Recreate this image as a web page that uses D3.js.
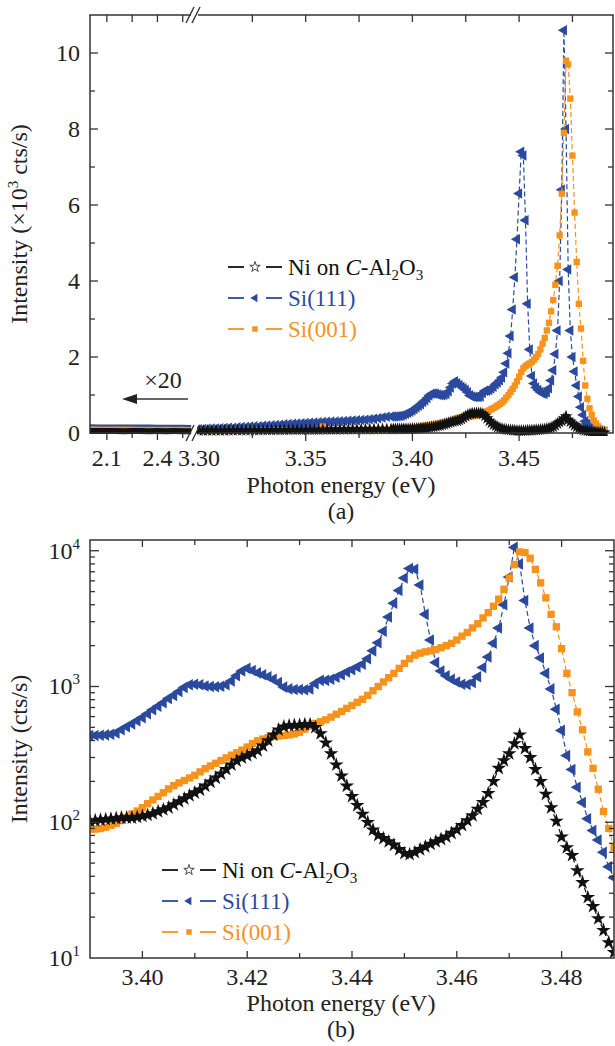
<!DOCTYPE html>
<html>
<head>
<meta charset="utf-8">
<script src="https://cdn.jsdelivr.net/npm/d3@7"></script>
<style>
body { margin: 0; background: #fff; }
svg { display: block; font-family: "Liberation Serif", "Times New Roman", serif; }
</style>
</head>
<body>
<svg class="js-vis" width="615" height="1046"></svg>
<script>
"use strict";

// low-energy part (2.0 - 2.6 eV), shown x20
var lowEnergy = [2.00, 2.05, 2.10, 2.15, 2.20, 2.25, 2.30, 2.35, 2.40, 2.45, 2.50, 2.55, 2.60];
var lowNi = [2.6, 2.5, 2.6, 2.5, 2.4, 2.5, 2.5, 2.4, 2.5, 2.4, 2.5, 2.4, 2.4];
var lowSi111 = [9.8, 9.7, 9.7, 9.6, 9.6, 9.5, 9.5, 9.4, 9.3, 9.3, 9.2, 9.1, 9.0];
var lowSi001 = [6.8, 6.9, 7.0, 6.9, 6.8, 6.8, 6.7, 6.7, 6.6, 6.6, 6.5, 6.5, 6.4];
var lowFactor = 20;

// band-edge part: 3.300-3.388 eV every 2 meV, then 3.390-3.490 eV every 1 meV
var energy = d3.range(3300, 3390, 2).concat(d3.range(3390, 3491)).map(function (d) {
  return d / 1000;
});

// intensities in cts/s
var si111Counts = [
  100, 105, 110, 115, 118, 125, 130, 135, 140, 148,
  155, 160, 168, 175, 180, 190, 195, 205, 210, 220,
  228, 235, 240, 250, 255, 262, 270, 275, 285, 290,
  296, 300, 305, 312, 318, 322, 328, 335, 340, 350,
  360, 372, 390, 410, 428,
  436, 436, 437, 440, 445, 455, 480, 505, 530, 560,
  590, 630, 675, 715, 760, 815, 860, 920, 985, 1030,
  1040, 1030, 1010, 1000, 995, 1005, 1030, 1100, 1200, 1300,
  1360, 1310, 1260, 1220, 1180, 1130, 1070, 990, 960, 950,
  950, 945, 960, 1050, 1110, 1110, 1130, 1170, 1220, 1280,
  1330, 1390, 1460, 1600, 1830, 2100, 2550, 3250, 4100, 5100,
  6300, 7400, 7300, 5600, 3400, 2200, 1500, 1300, 1200, 1130,
  1080, 1040, 1035, 1070, 1180, 1380, 1650, 2080, 2700, 4000,
  6400, 10600, 8000, 4300, 2700, 2000, 1620, 1250, 960, 680,
  475, 310, 245, 181, 140, 106, 87, 74, 60, 47,
  39
];

var si001Counts = [
  45, 46, 47, 48, 48, 50, 51, 52, 53, 54,
  55, 56, 57, 58, 59, 60, 61, 62, 63, 64,
  65, 66, 67, 68, 69, 70, 71, 72, 73, 170,
  74, 75, 76, 77, 78, 79, 80, 81, 82, 83,
  84, 85, 86, 87, 88,
  89, 89, 90, 92, 95, 98, 103, 108, 115, 121,
  128, 137, 146, 155, 165, 176, 186, 195, 203, 212,
  222, 235, 248, 260, 272, 285, 298, 312, 325, 340,
  358, 380, 398, 410, 420, 427, 432, 436, 440, 447,
  460, 485, 512, 535, 550, 568, 595, 625, 655, 690,
  725, 765, 805, 860, 930, 1000, 1080, 1160, 1250, 1360,
  1480, 1600, 1700, 1760, 1800, 1830, 1870, 1930, 2000, 2080,
  2200, 2350, 2500, 2700, 2900, 3200, 3500, 3900, 4400, 5200,
  6300, 7900, 9800, 9700, 8800, 7300, 5800, 4500, 3400, 2750,
  1900, 1250, 900, 650, 480, 330, 250, 175, 120, 90,
  65
];

var niCounts = [
  62, 63, 63, 64, 65, 66, 66, 67, 68, 69,
  70, 70, 71, 72, 73, 74, 75, 76, 77, 78,
  79, 80, 81, 82, 83, 84, 85, 86, 86, 87,
  88, 89, 90, 91, 92, 93, 94, 95, 96, 97,
  98, 99, 100, 101, 101,
  102, 103, 104, 105, 106, 107, 108, 108, 108, 109,
  111, 113, 116, 120, 124, 128, 135, 142, 149, 157,
  165, 173, 185, 198, 212, 227, 245, 265, 283, 298,
  310, 322, 337, 365, 400, 440, 480, 505, 515, 518,
  520, 525, 525, 500, 450, 385, 320, 265, 220, 185,
  155, 133, 115, 100, 88, 80, 76, 72, 68, 63,
  59, 58, 60, 63, 66, 69, 72, 75, 78, 83,
  88, 95, 103, 112, 125, 140, 163, 200, 250, 285,
  320, 380, 440, 350, 300, 245, 200, 161, 128, 102,
  78, 65, 57, 44, 36, 28, 24, 19.5, 16, 13,
  11
];

// axis ticks
var lowTicksMajor = [2.1, 2.4];
var lowTicksMinor = [2.25, 2.55];
var highTicksMajor = [3.30, 3.35, 3.40, 3.45];
var highTicksMinor = [3.325, 3.375, 3.425, 3.475];
var linTicks = [0, 2, 4, 6, 8, 10];
var linTicksMinor = [1, 3, 5, 7, 9];
var bTicksMajor = [3.40, 3.42, 3.44, 3.46, 3.48];
var bTicksMinor = [3.41, 3.43, 3.45, 3.47];

var BLUE = "#2b4a9e", ORANGE = "#f7921c", BLACK = "#111";
var AX = "#333";

var series = [
  { key: "si111", label: "Si(111)", color: BLUE, symbol: d3.symbolTriangle, rot: -90, values: si111Counts, low: lowSi111, lowWidth: 2.5, sizeA: 48, sizeB: 58 },
  { key: "si001", label: "Si(001)", color: ORANGE, symbol: d3.symbolSquare, rot: 0, values: si001Counts, low: lowSi001, lowWidth: 2.5, sizeA: 40, sizeB: 54 },
  { key: "ni", label: "Ni", color: BLACK, symbol: d3.symbolStar, rot: 0, values: niCounts, low: lowNi, lowWidth: 6, sizeA: 50, sizeB: 66 }
];

var svg = d3.select(".js-vis");

function vTicks(g, scale, vals, y0, len) {
  g.append("g").selectAll("line").data(vals).enter().append("line")
    .attr("x1", function (d) { return scale(d); })
    .attr("x2", function (d) { return scale(d); })
    .attr("y1", y0).attr("y2", y0 + len)
    .attr("stroke", AX).attr("stroke-width", 1.3);
}

function hTicks(g, scale, vals, x0, len) {
  g.append("g").selectAll("line").data(vals).enter().append("line")
    .attr("y1", function (d) { return scale(d); })
    .attr("y2", function (d) { return scale(d); })
    .attr("x1", x0).attr("x2", x0 + len)
    .attr("stroke", AX).attr("stroke-width", 1.3);
}

function line(g, x1, y1, x2, y2, w) {
  g.append("line").attr("x1", x1).attr("y1", y1).attr("x2", x2).attr("y2", y2)
    .attr("stroke", AX).attr("stroke-width", w || 1.5);
}

function drawMarkers(g, s, xs, ys, idx, area) {
  var sym = d3.symbol().type(s.symbol).size(area);
  var pts = idx.map(function (i) { return [xs(energy[i]), ys(s.values[i])]; });
  g.append("path")
    .attr("d", d3.line()(pts))
    .attr("fill", "none").attr("stroke", s.color)
    .attr("stroke-width", 1.2).attr("stroke-dasharray", "5,3");
  g.append("g").selectAll("path").data(pts).enter().append("path")
    .attr("d", sym)
    .attr("transform", function (d) { return "translate(" + d[0] + "," + d[1] + ") rotate(" + s.rot + ")"; })
    .attr("fill", s.color);
}

function legend(g, x0, y0, gap) {
  var order = [series[2], series[0], series[1]];
  order.forEach(function (s, i) {
    var y = y0 + i * gap;
    g.append("line").attr("x1", x0).attr("x2", x0 + 16).attr("y1", y).attr("y2", y)
      .attr("stroke", s.color).attr("stroke-width", 1.8);
    g.append("line").attr("x1", x0 + 38).attr("x2", x0 + 54).attr("y1", y).attr("y2", y)
      .attr("stroke", s.color).attr("stroke-width", 1.8);
    var m = g.append("path")
      .attr("d", d3.symbol().type(s.symbol).size(s.key === "ni" ? 34 : 30))
      .attr("transform", "translate(" + (x0 + 27) + "," + y + ") rotate(" + s.rot + ")");
    if (s.key === "ni") m.attr("fill", "#fff").attr("stroke", "#333").attr("stroke-width", 0.9);
    else m.attr("fill", s.color);
    var t = g.append("text").attr("x", x0 + 60).attr("y", y + 8)
      .attr("font-size", 23).attr("fill", s.color);
    if (s.key === "ni") {
      t.append("tspan").text("Ni on ");
      t.append("tspan").attr("font-style", "italic").text("C");
      t.append("tspan").text("-Al");
      t.append("tspan").attr("font-size", 15).attr("dy", 5).text("2");
      t.append("tspan").attr("dy", -5).text("O");
      t.append("tspan").attr("font-size", 15).attr("dy", 5).text("3");
    } else {
      t.text(s.label);
    }
  });
}

// ================= panel (a) =================
var aTop = 15, aBot = 433, aLeft = 90, aRight = 613;
var xLow = d3.scaleLinear().domain([2.0, 2.605]).range([aLeft, 192]);
var xHigh = d3.scaleLinear().domain([3.30, 3.494]).range([199, aRight]);
var yLin = d3.scaleLinear().domain([0, 11]).range([aBot, aTop]);

var pa = svg.append("g");
pa.append("clipPath").attr("id", "clipLow").append("rect")
  .attr("x", aLeft).attr("y", aTop).attr("width", 192 - aLeft).attr("height", aBot - aTop + 3);
pa.append("clipPath").attr("id", "clipHigh").append("rect")
  .attr("x", 197).attr("y", aTop).attr("width", aRight - 197).attr("height", aBot - aTop + 3);

var lowG = pa.append("g").attr("clip-path", "url(#clipLow)");
series.forEach(function (s) {
  lowG.append("path")
    .attr("d", d3.line()
      .x(function (d, i) { return xLow(lowEnergy[i]); })
      .y(function (d) { return yLin(d * lowFactor / 1000); })(s.low))
    .attr("fill", "none").attr("stroke", s.color).attr("stroke-width", s.lowWidth);
});

var yLinK = function (v) { return yLin(v / 1000); };
var highG = pa.append("g").attr("clip-path", "url(#clipHigh)");
var allIdx = d3.range(energy.length);
series.forEach(function (s) {
  drawMarkers(highG, s, xHigh, yLinK, allIdx, s.sizeA);
});

// frame with axis break
line(pa, aLeft, aTop, aLeft, aBot);
line(pa, aRight, aTop, aRight, aBot);
line(pa, aLeft - 0.7, aBot, 191, aBot);
line(pa, 198, aBot, aRight + 0.7, aBot);
line(pa, aLeft - 0.7, aTop, 191, aTop);
line(pa, 198, aTop, aRight + 0.7, aTop);
[aBot, aTop].forEach(function (yb) {
  line(pa, 186, yb + 8, 194, yb - 8, 1.4);
  line(pa, 192, yb + 8, 200, yb - 8, 1.4);
});

// ticks
vTicks(pa, xLow, lowTicksMajor, aBot, 7);
vTicks(pa, xLow, lowTicksMinor, aBot, 5);
vTicks(pa, xHigh, highTicksMajor.slice(1), aBot, 8);
vTicks(pa, xHigh, highTicksMinor, aBot, 5);
vTicks(pa, xLow, lowTicksMajor.concat(lowTicksMinor), aTop, 7);
vTicks(pa, xHigh, highTicksMajor.slice(1).concat(highTicksMinor), aTop, 7);
hTicks(pa, yLin, linTicks.slice(1), aLeft, 8);
hTicks(pa, yLin, linTicksMinor, aLeft, 5);
hTicks(pa, yLin, linTicks.slice(1), aRight, -8);
hTicks(pa, yLin, linTicksMinor, aRight, -5);

var fs = 24;
pa.append("g").selectAll("text").data(lowTicksMajor).enter().append("text")
  .attr("x", function (d) { return xLow(d); }).attr("y", 466)
  .attr("text-anchor", "middle").attr("font-size", fs).attr("fill", "#222")
  .text(function (d) { return d3.format(".1f")(d); });
pa.append("g").selectAll("text").data(highTicksMajor).enter().append("text")
  .attr("x", function (d) { return xHigh(d); }).attr("y", 466)
  .attr("text-anchor", "middle").attr("font-size", fs).attr("fill", "#222")
  .text(function (d) { return d3.format(".2f")(d); });
pa.append("g").selectAll("text").data(linTicks).enter().append("text")
  .attr("x", 80).attr("y", function (d) { return yLin(d) + 8; })
  .attr("text-anchor", "end").attr("font-size", fs).attr("fill", "#222")
  .text(function (d) { return d; });

pa.append("text").attr("x", 341).attr("y", 493).attr("text-anchor", "middle")
  .attr("font-size", fs).attr("fill", "#222").text("Photon energy (eV)");
pa.append("text").attr("x", 341).attr("y", 519).attr("text-anchor", "middle")
  .attr("font-size", fs).attr("fill", "#222").text("(a)");

var ya = pa.append("text").attr("transform", "translate(27," + ((aTop + aBot) / 2) + ") rotate(-90)")
  .attr("text-anchor", "middle").attr("font-size", fs).attr("fill", "#222");
ya.append("tspan").text("Intensity (\u00d710");
ya.append("tspan").attr("font-size", 15).attr("dy", -9).text("3");
ya.append("tspan").attr("dy", 9).text(" cts/s)");

// x20 note with arrow
pa.append("text").attr("x", 163).attr("y", 388).attr("text-anchor", "middle")
  .attr("font-size", fs).attr("fill", "#222").text("\u00d720");
line(pa, 134, 399, 188, 399, 1.6);
pa.append("path").attr("d", "M122,399L137,394L137,404Z").attr("fill", "#222");

legend(pa, 228, 267, 31);

// ================= panel (b) =================
var bTop = 540, bBot = 958, bLeft = 90, bRight = 614;
var xB = d3.scaleLinear().domain([3.39, 3.49]).range([bLeft, bRight]);
var yLog = d3.scaleLog().domain([10, 12000]).range([bBot, bTop]);

var pb = svg.append("g");
pb.append("clipPath").attr("id", "clipB").append("rect")
  .attr("x", bLeft).attr("y", bTop).attr("width", bRight - bLeft).attr("height", bBot - bTop);
var bG = pb.append("g").attr("clip-path", "url(#clipB)");
var bIdx = allIdx.filter(function (i) { return energy[i] >= 3.3895; });
series.forEach(function (s) {
  drawMarkers(bG, s, xB, yLog, bIdx, s.sizeB);
});

pb.append("rect").attr("x", bLeft).attr("y", bTop).attr("width", bRight - bLeft).attr("height", bBot - bTop)
  .attr("fill", "none").attr("stroke", AX).attr("stroke-width", 1.5);

vTicks(pb, xB, bTicksMajor, bBot, -7);
vTicks(pb, xB, bTicksMinor, bBot, -5);
vTicks(pb, xB, bTicksMajor, bTop, 7);
vTicks(pb, xB, bTicksMinor, bTop, 5);
var logAll = yLog.ticks().filter(function (d) { return d > 10 && d < 12000; });
var logMajor = logAll.filter(function (d) { return Math.abs(Math.log10(d) - Math.round(Math.log10(d))) < 1e-9; });
var logMinor = logAll.filter(function (d) { return logMajor.indexOf(d) < 0; });
hTicks(pb, yLog, logMajor, bLeft, 9);
hTicks(pb, yLog, logMinor, bLeft, 5);
hTicks(pb, yLog, logMajor, bRight, -9);
hTicks(pb, yLog, logMinor, bRight, -5);

pb.append("g").selectAll("text").data(bTicksMajor).enter().append("text")
  .attr("x", function (d) { return xB(d); }).attr("y", 985)
  .attr("text-anchor", "middle").attr("font-size", fs).attr("fill", "#222")
  .text(function (d) { return d3.format(".2f")(d); });

var decades = [10, 100, 1000, 10000];
var lt = pb.append("g").selectAll("text").data(decades).enter().append("text")
  .attr("x", 80).attr("y", function (d) { return yLog(d) + 8; })
  .attr("text-anchor", "end").attr("font-size", fs).attr("fill", "#222");
lt.append("tspan").text("10");
lt.append("tspan").attr("font-size", 15).attr("dy", -10)
  .text(function (d) { return Math.round(Math.log10(d)); });

pb.append("text").attr("x", 341).attr("y", 1011).attr("text-anchor", "middle")
  .attr("font-size", fs).attr("fill", "#222").text("Photon energy (eV)");
pb.append("text").attr("x", 341).attr("y", 1037).attr("text-anchor", "middle")
  .attr("font-size", fs).attr("fill", "#222").text("(b)");
pb.append("text").attr("transform", "translate(27," + ((bTop + bBot) / 2) + ") rotate(-90)")
  .attr("text-anchor", "middle").attr("font-size", fs).attr("fill", "#222")
  .text("Intensity (cts/s)");

legend(pb, 162, 870, 31);
</script>
</body>
</html>
